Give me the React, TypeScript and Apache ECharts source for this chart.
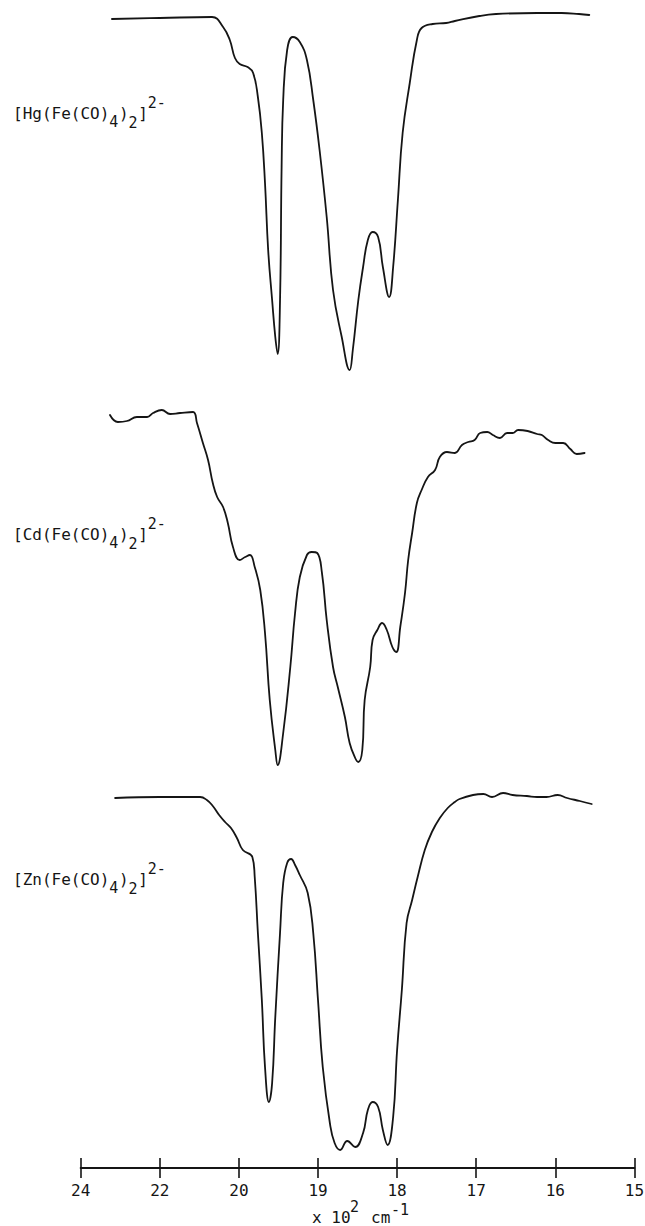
import React, { useEffect, useRef } from 'react';
import * as echarts from 'echarts';

// Axis tick labels (x 10^2 cm^-1); the chart is on a split scale:
// 2400-2000 cm-1 at half the scale of 2000-1500 cm-1.
const tickLabels = ['24', '22', '20', '19', '18', '17', '16', '15'];

// [Hg(Fe(CO)4)2]2- : wavenumber (cm-1) and pen deflection from top of its strip (% of strip)
const hgWavenumber = [2321, 2200, 2068, 2040, 2023, 2010, 1999, 1989, 1982, 1976, 1971, 1967, 1963, 1958, 1954, 1951, 1948, 1946, 1944, 1939, 1932, 1923, 1914, 1906, 1898, 1889, 1881, 1870, 1860, 1856, 1849, 1843, 1837, 1831, 1824, 1818, 1810, 1805, 1799, 1793, 1784, 1775, 1769, 1755, 1738, 1727, 1696, 1675, 1623, 1592, 1570, 1557];
const hgDeflection = [4.75, 4.5, 4.25, 6.75, 10, 14.5, 16, 16.75, 18.25, 24.25, 33.25, 45.75, 62.5, 75, 84.25, 88.5, 75, 41.75, 25, 12.5, 9.25, 10.5, 15, 25, 37.5, 54.25, 72.5, 84.25, 92.5, 87.5, 75, 66.75, 60, 58, 59.25, 66.75, 74.25, 66.75, 50, 33.25, 20.75, 10, 7, 6, 5.75, 5.25, 4, 3.5, 3.25, 3.25, 3.5, 3.75];

// [Cd(Fe(CO)4)2]2-
const cdWavenumber = [2326, 2306, 2283, 2258, 2232, 2217, 2195, 2174, 2149, 2116, 2106, 2091, 2078, 2066, 2055, 2040, 2028, 2015, 1999, 1992, 1986, 1980, 1973, 1967, 1961, 1954, 1951, 1944, 1935, 1929, 1923, 1914, 1908, 1901, 1895, 1889, 1881, 1875, 1866, 1860, 1853, 1849, 1844, 1841, 1834, 1831, 1825, 1819, 1813, 1806, 1801, 1796, 1790, 1786, 1781, 1775, 1769, 1761, 1752, 1746, 1737, 1727, 1718, 1710, 1702, 1695, 1686, 1679, 1670, 1661, 1654, 1647, 1635, 1623, 1617, 1609, 1600, 1590, 1581, 1573, 1563];
const cdDeflection = [3.75, 5.5, 5.25, 4.25, 4.25, 3.25, 2.5, 3.5, 3.25, 3, 5.75, 10.75, 15, 20.75, 24.25, 26.75, 30.75, 36.75, 40, 39.25, 38.75, 41.75, 47.5, 58.25, 75, 87.5, 91.25, 83.25, 66.75, 53.25, 44.25, 38.75, 38, 38.25, 43.25, 55, 66.75, 71.75, 79.25, 85.75, 89.5, 90.5, 87.5, 75, 66.75, 60, 57.5, 55.75, 57.5, 61.75, 63, 56.75, 48.25, 40, 33.25, 25.75, 22.5, 19.25, 17.5, 14.25, 13, 13.25, 11.25, 10.5, 10, 8.25, 8, 8.75, 9.5, 8.25, 8.25, 7.5, 7.75, 8.5, 8.75, 10, 10.75, 10.75, 12.25, 13.5, 13.25];

// [Zn(Fe(CO)4)2]2-
const znWavenumber = [2313, 2200, 2098, 2081, 2066, 2050, 2035, 2020, 2005, 1995, 1983, 1980, 1976, 1971, 1967, 1962, 1958, 1954, 1948, 1944, 1939, 1934, 1929, 1923, 1913, 1906, 1900, 1894, 1885, 1879, 1872, 1863, 1853, 1843, 1837, 1831, 1824, 1818, 1812, 1805, 1800, 1794, 1788, 1781, 1774, 1765, 1756, 1746, 1736, 1727, 1721, 1704, 1691, 1680, 1666, 1654, 1636, 1623, 1611, 1597, 1585, 1569, 1554];
const znDeflection = [4.5, 4.25, 4.25, 5, 6.5, 8.75, 10.5, 12, 14.5, 17.5, 19.25, 24.25, 38.25, 55, 71.75, 80.5, 75.75, 59.25, 38.25, 25.75, 20.75, 19.75, 21.25, 23.75, 28.25, 38.25, 55, 71.75, 85.75, 90.75, 92.5, 90.25, 91.75, 88.25, 82.5, 80.5, 81.75, 87.5, 91.25, 84.25, 67.5, 52.5, 35.75, 30, 24.25, 17.5, 13, 9.5, 7, 5.5, 4.75, 3.75, 3.5, 4.25, 3.25, 3.75, 4, 4.25, 4.25, 3.75, 4.5, 5.25, 6];

const compounds = ['Hg', 'Cd', 'Zn'];

// split-scale position along the axis (one unit per tick)
function axisPos(w: number): number {
  return w >= 2000 ? (2400 - w) / 200 : 2 + (2000 - w) / 100;
}
function pairs(ws: number[], ds: number[]) {
  return ws.map((w, i) => [axisPos(w), ds[i]]);
}

const MONO = '"DejaVu Sans Mono", "Liberation Mono", monospace';
const INK = '#151515';
const CHAR = 9.63;

function txt(s: string, x: number, baseline: number, size: number) {
  return {
    type: 'text',
    x,
    y: baseline - size * 0.35,
    silent: true,
    style: {
      text: s,
      font: `${size}px ${MONO}`,
      fill: INK,
      align: 'left',
      verticalAlign: 'middle',
    },
  };
}

function formula(metal: string, baseline: number) {
  const x0 = 13;
  const main = `[${metal}(Fe(CO)`;
  const x1 = x0 + main.length * CHAR;
  return [
    txt(main, x0, baseline, 16),
    txt('4', x1, baseline + 8, 15),
    txt(')', x1 + CHAR, baseline, 16),
    txt('2', x1 + 2 * CHAR, baseline + 9, 15),
    txt(']', x1 + 3 * CHAR, baseline, 16),
    txt('2-', x1 + 4 * CHAR, baseline - 11, 15),
  ];
}

const GRID_LEFT = 80.7;
const GRID_RIGHT = 645 - 634.4;

export default function App() {
  const ref = useRef<HTMLDivElement>(null);

  useEffect(() => {
    document.body.style.margin = '0';
    const chart = echarts.init(ref.current as HTMLDivElement, null, { renderer: 'svg' });
    const gridBase = { left: GRID_LEFT, right: GRID_RIGHT, containLabel: false, outerBoundsMode: 'none' };
    const hiddenX = (gridIndex: number) => ({
      type: 'value', gridIndex, min: 0, max: 7, show: false,
    });
    const hiddenY = (gridIndex: number, max: number) => ({
      type: 'value', gridIndex, min: 0, max, inverse: true, show: false,
    });
    const lineSeries = (name: string, idx: number, data: number[][]) => ({
      type: 'line',
      name,
      xAxisIndex: idx,
      yAxisIndex: idx,
      data,
      showSymbol: false,
      symbol: 'none',
      smooth: 0.45,
      clip: false,
      lineStyle: { color: INK, width: 1.8, join: 'round', cap: 'round' },
      silent: true,
    });

    const option: any = {
      animation: false,
      backgroundColor: '#ffffff',
      grid: [
        { ...gridBase, top: 0, height: 400 },
        { ...gridBase, top: 400, height: 400 },
        { ...gridBase, top: 780, height: 388 },
        { ...gridBase, top: 780, height: 388 },
      ],
      xAxis: [
        hiddenX(0),
        hiddenX(1),
        {
          type: 'value', gridIndex: 2, min: 0, max: 7, interval: 1, position: 'bottom',
          axisLine: { show: true, onZero: false, lineStyle: { color: INK, width: 2 } },
          axisTick: { show: true, inside: false, length: 10, lineStyle: { color: INK, width: 1.6 } },
          splitLine: { show: false },
          axisLabel: {
            show: true, margin: 14, color: INK, fontSize: 16, fontFamily: MONO,
            formatter: (v: number) => tickLabels[Math.round(v)] ?? '',
          },
        },
        {
          type: 'value', gridIndex: 3, min: 0, max: 7, interval: 1, position: 'bottom',
          axisLine: { show: false, onZero: false },
          axisTick: { show: true, inside: true, length: 10, lineStyle: { color: INK, width: 1.6 } },
          splitLine: { show: false },
          axisLabel: { show: false },
        },
      ],
      yAxis: [hiddenY(0, 100), hiddenY(1, 100), hiddenY(2, 97), hiddenY(3, 97)],
      series: [
        lineSeries(compounds[0], 0, pairs(hgWavenumber, hgDeflection)),
        lineSeries(compounds[1], 1, pairs(cdWavenumber, cdDeflection)),
        lineSeries(compounds[2], 2, pairs(znWavenumber, znDeflection)),
      ],
      graphic: [
        ...formula(compounds[0], 119),
        ...formula(compounds[1], 540),
        ...formula(compounds[2], 885),
        txt('x 10', 312, 1223, 16),
        txt('2', 350, 1212, 15),
        txt('cm', 371, 1223, 16),
        txt('-1', 391, 1215, 15),
      ],
    };
    chart.setOption(option);
    return () => chart.dispose();
  }, []);

  return (
    <div
      ref={ref}
      style={{ position: 'absolute', left: 0, top: 0, width: 645, height: 1226, background: '#fff' }}
    />
  );
}
